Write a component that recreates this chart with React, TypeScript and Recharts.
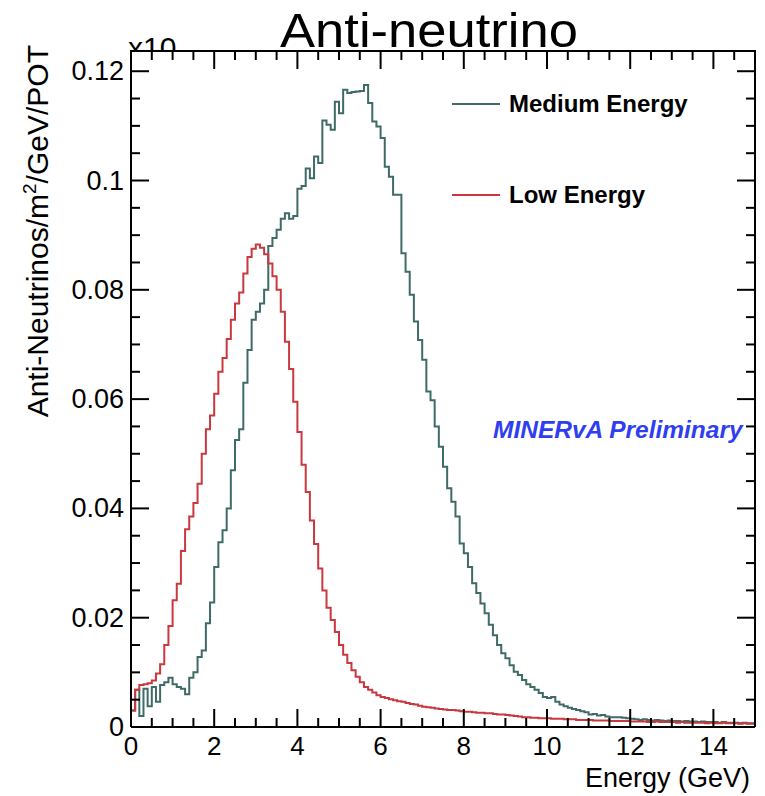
import { LineChart, Line, XAxis, YAxis } from 'recharts';

// flux per 0.1 GeV bin, 0 - 15 GeV (150 bins)
const LOW_ENERGY = [
  0.0030, 0.0068, 0.0077, 0.0078, 0.0080, 0.0085, 0.0098, 0.0115, 0.0150, 0.0185,
  0.0232, 0.0262, 0.0322, 0.0362, 0.0385, 0.0410, 0.0445, 0.0500, 0.0545, 0.0570,
  0.0610, 0.0650, 0.0675, 0.0710, 0.0745, 0.0775, 0.0795, 0.0830, 0.0860, 0.0875,
  0.0883, 0.0877, 0.0865, 0.0848, 0.0825, 0.0800, 0.0760, 0.0705, 0.0655, 0.0595,
  0.0540, 0.0480, 0.0430, 0.0378, 0.0335, 0.0290, 0.0250, 0.0218, 0.0196, 0.0174,
  0.0150, 0.0132, 0.0117, 0.0104, 0.0092, 0.0082, 0.0073, 0.0068, 0.0063, 0.0058,
  0.0055, 0.0053, 0.0051, 0.0049, 0.0047, 0.0046, 0.0044, 0.0042, 0.0041, 0.0039,
  0.0037, 0.0036, 0.0035, 0.0034, 0.0033, 0.0032, 0.0031, 0.0031, 0.0030, 0.0029,
  0.0028, 0.0028, 0.0027, 0.0026, 0.0026, 0.0025, 0.0025, 0.0024, 0.0023, 0.0023,
  0.0022, 0.0021, 0.0020, 0.0019, 0.0018, 0.0018, 0.0017, 0.0017, 0.0016, 0.0016,
  0.0016, 0.0015, 0.0015, 0.0015, 0.0014, 0.0014, 0.0014, 0.0013, 0.0013, 0.0013,
  0.0013, 0.0012, 0.0012, 0.0012, 0.0012, 0.0011, 0.0011, 0.0011, 0.0011, 0.0011,
  0.0010, 0.0010, 0.0010, 0.0010, 0.0009, 0.0009, 0.0010, 0.0009, 0.0009, 0.0009,
  0.0009, 0.0008, 0.0009, 0.0008, 0.0008, 0.0008, 0.0008, 0.0008, 0.0007, 0.0008,
  0.0007, 0.0007, 0.0008, 0.0007, 0.0007, 0.0007, 0.0006, 0.0007, 0.0006, 0.0006,
];

const MEDIUM_ENERGY = [
  0.0030, 0.0068, 0.0020, 0.0070, 0.0038, 0.0073, 0.0046, 0.0077, 0.0082, 0.0090,
  0.0078, 0.0073, 0.0070, 0.0060, 0.0090, 0.0100, 0.0128, 0.0140, 0.0190, 0.0228,
  0.0293, 0.0338, 0.0360, 0.0400, 0.0470, 0.0525, 0.0545, 0.0630, 0.0690, 0.0745,
  0.0760, 0.0775, 0.0800, 0.0880, 0.0895, 0.0910, 0.0930, 0.0940, 0.0930, 0.0935,
  0.0985, 0.0990, 0.1022, 0.1004, 0.1044, 0.1032, 0.1110, 0.1102, 0.1093, 0.1144,
  0.1123, 0.1166, 0.1160, 0.1162, 0.1163, 0.1164, 0.1175, 0.1142, 0.1108, 0.1099,
  0.1078, 0.1025, 0.1007, 0.0974, 0.0974, 0.0867, 0.0833, 0.0791, 0.0742, 0.0708,
  0.0672, 0.0614, 0.0598, 0.0550, 0.0513, 0.0476, 0.0437, 0.0412, 0.0385, 0.0336,
  0.0318, 0.0293, 0.0263, 0.0245, 0.0226, 0.0208, 0.0187, 0.0168, 0.0150, 0.0135,
  0.0126, 0.0113, 0.0101, 0.0095, 0.0086, 0.0078, 0.0073, 0.0068, 0.0062, 0.0055,
  0.0053, 0.0055, 0.0046, 0.0041, 0.0038, 0.0035, 0.0033, 0.0031, 0.0029, 0.0027,
  0.0023, 0.0024, 0.0021, 0.0022, 0.0019, 0.0018, 0.0018, 0.0018, 0.0017, 0.0016,
  0.0015, 0.0014, 0.0013, 0.0014, 0.0013, 0.0012, 0.0013, 0.0012, 0.0011, 0.0012,
  0.0011, 0.0011, 0.0010, 0.0011, 0.0010, 0.0010, 0.0009, 0.0010, 0.0009, 0.0009,
  0.0009, 0.0008, 0.0009, 0.0008, 0.0008, 0.0008, 0.0007, 0.0008, 0.0007, 0.0007,
];

const X_TICKS = [0, 0.5, 1, 1.5, 2, 2.5, 3, 3.5, 4, 4.5, 5, 5.5, 6, 6.5, 7, 7.5, 8, 8.5, 9, 9.5, 10, 10.5, 11, 11.5, 12, 12.5, 13, 13.5, 14, 14.5, 15];
const X_LABELS = [0, 2, 4, 6, 8, 10, 12, 14];
const Y_TICKS = [0, 0.005, 0.01, 0.015, 0.02, 0.025, 0.03, 0.035, 0.04, 0.045, 0.05, 0.055, 0.06, 0.065, 0.07, 0.075, 0.08, 0.085, 0.09, 0.095, 0.1, 0.105, 0.11, 0.115, 0.12];
const Y_LABELS = [0, 0.02, 0.04, 0.06, 0.08, 0.1, 0.12];

const SERIES = [
  { key: 'me', name: 'Medium Energy', color: '#3f6b66' },
  { key: 'le', name: 'Low Energy', color: '#c9383f' },
];

const BIN_WIDTH = 0.1;
const X_MAX = 15;
const Y_MAX = 0.1237;

const W = 765;
const H = 796;
const MARGIN = { top: 51, right: 9, bottom: 39, left: 71 };
const Y_AXIS_W = 60;
const PLOT_LEFT = MARGIN.left + Y_AXIS_W;
const PLOT_RIGHT = W - MARGIN.right - 1;
const FONT = '"Liberation Sans", Arial, Helvetica, sans-serif';

// step histogram: one point per bin left edge, plus closing edge
const data = LOW_ENERGY.map((v, i) => ({
  e: Math.round(i * BIN_WIDTH * 10) / 10,
  le: v,
  me: MEDIUM_ENERGY[i],
}));
data.push({ e: X_MAX, le: LOW_ENERGY[LOW_ENERGY.length - 1], me: MEDIUM_ENERGY[MEDIUM_ENERGY.length - 1] });

const isMajor = (list: number[], v: number) => list.some((m) => Math.abs(m - v) < 1e-9);

function BottomTick({ x, y, payload }: any) {
  const major = isMajor(X_LABELS, payload.value);
  return (
    <g>
      <line x1={x} y1={y} x2={x} y2={y - (major ? 18 : 9)} stroke="#000" strokeWidth={2} />
      {major && (
        <text x={x} y={y + 28} textAnchor="middle" fontSize={26} fontFamily={FONT} fill="#000">
          {payload.value}
        </text>
      )}
    </g>
  );
}

function LeftTick({ x, y, payload }: any) {
  const major = isMajor(Y_LABELS, payload.value);
  return (
    <g>
      <line x1={x} y1={y} x2={x + (major ? 18 : 9)} y2={y} stroke="#000" strokeWidth={2} />
      {major && (
        <text x={x - 7} y={y + 9} textAnchor="end" fontSize={27} fontFamily={FONT} fill="#000">
          {String(payload.value)}
        </text>
      )}
    </g>
  );
}

function RightTick({ x, y, payload }: any) {
  const major = isMajor(Y_LABELS, payload.value);
  return <line x1={x} y1={y} x2={x - (major ? 18 : 9)} y2={y} stroke="#000" strokeWidth={2} />;
}

// frame top with its hanging ticks (mirrors the bottom axis)
function TopFrame() {
  const toPx = (v: number) => PLOT_LEFT + (v / X_MAX) * (PLOT_RIGHT - PLOT_LEFT);
  return (
    <g>
      <line x1={PLOT_LEFT - 1} x2={PLOT_RIGHT + 1} y1={MARGIN.top} y2={MARGIN.top} stroke="#000" strokeWidth={2} />
      {X_TICKS.map((v) => (
        <line
          key={v}
          x1={toPx(v)}
          x2={toPx(v)}
          y1={MARGIN.top}
          y2={MARGIN.top + (isMajor(X_LABELS, v) ? 18 : 9)}
          stroke="#000"
          strokeWidth={2}
        />
      ))}
    </g>
  );
}

export default function App() {
  return (
    <div style={{ position: 'absolute', left: 0, top: 0, width: W, height: H, background: '#fff' }}>
      <LineChart width={W} height={H} data={data} margin={MARGIN}>
        <XAxis
          dataKey="e"
          type="number"
          domain={[0, X_MAX]}
          ticks={X_TICKS}
          interval={0}
          height={30}
          tickSize={0}
          tickMargin={0}
          tickLine={false}
          tick={<BottomTick />}
          axisLine={{ stroke: '#000', strokeWidth: 2 }}
          allowDataOverflow
        />
        <YAxis
          yAxisId="l"
          type="number"
          domain={[0, Y_MAX]}
          ticks={Y_TICKS}
          interval={0}
          width={Y_AXIS_W}
          tickSize={0}
          tickMargin={0}
          tickLine={false}
          tick={<LeftTick />}
          axisLine={{ stroke: '#000', strokeWidth: 2 }}
          allowDataOverflow
        />
        <YAxis
          yAxisId="r"
          orientation="right"
          type="number"
          domain={[0, Y_MAX]}
          ticks={Y_TICKS}
          interval={0}
          width={1}
          tickSize={0}
          tickMargin={0}
          tickLine={false}
          tick={<RightTick />}
          axisLine={{ stroke: '#000', strokeWidth: 2 }}
          allowDataOverflow
        />
        {SERIES.map((s) => (
          <Line
            key={s.key}
            yAxisId="l"
            dataKey={s.key}
            name={s.name}
            type="stepAfter"
            stroke={s.color}
            strokeWidth={2}
            dot={false}
            activeDot={false}
            isAnimationActive={false}
          />
        ))}
      </LineChart>
      <svg
        width={W}
        height={H}
        style={{ position: 'absolute', left: 0, top: 0, pointerEvents: 'none' }}
        fontFamily={FONT}
      >
        <defs>
          <clipPath id="aboveFrame">
            <rect x={0} y={0} width={W} height={MARGIN.top - 1} />
          </clipPath>
        </defs>
        <TopFrame />
        <text x={429} y={47} textAnchor="middle" fontSize={49} textLength={298} lengthAdjust="spacingAndGlyphs" fill="#000">
          Anti-neutrino
        </text>
        <text x={128} y={58} fontSize={30} fill="#000" clipPath="url(#aboveFrame)">
          x10
        </text>
        <text transform="translate(48, 45) rotate(-90)" textAnchor="end" fontSize={30} fill="#000">
          Anti-Neutrinos/m<tspan dy={-12} fontSize={19}>2</tspan>
          <tspan dy={12}>/GeV/POT</tspan>
        </text>
        <text x={750} y={787} textAnchor="end" fontSize={27} fill="#000">
          Energy (GeV)
        </text>
        {SERIES.map((s, i) => (
          <g key={s.key}>
            <line x1={452} x2={500} y1={104 + i * 91} y2={104 + i * 91} stroke={s.color} strokeWidth={2} />
            <text x={509} y={112 + i * 91} fontSize={24} fontWeight="bold" fill="#000">
              {s.name}
            </text>
          </g>
        ))}
        <text x={493} y={438} fontSize={24.5} fontWeight="bold" fontStyle="italic" fill="#2f3ff0">
          MINERvA Preliminary
        </text>
      </svg>
    </div>
  );
}
